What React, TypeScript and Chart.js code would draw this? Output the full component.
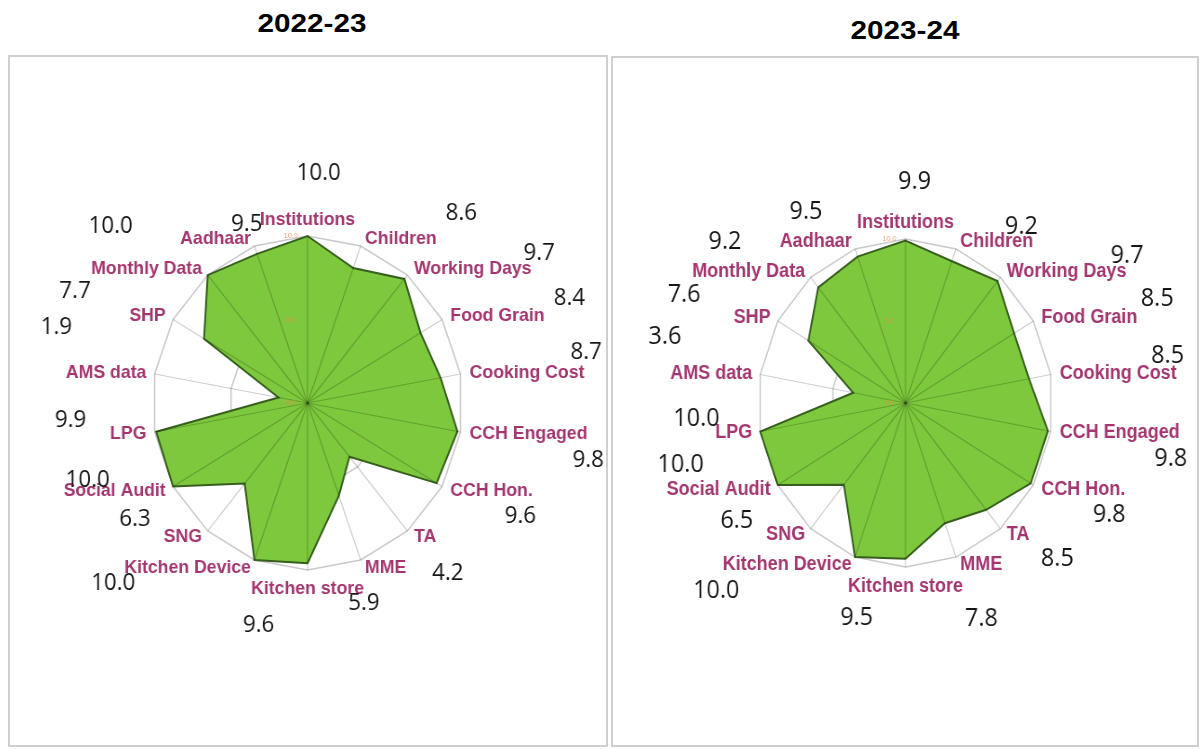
import React, { useEffect, useRef } from 'react';
import { Chart, registerables } from 'chart.js';

Chart.register(...registerables);

const categories = [
  'Institutions', 'Children', 'Working Days', 'Food Grain', 'Cooking Cost',
  'CCH Engaged', 'CCH Hon.', 'TA', 'MME', 'Kitchen store', 'Kitchen Device',
  'SNG', 'Social Audit', 'LPG', 'AMS data', 'SHP', 'Monthly Data', 'Aadhaar',
];
const values2022 = [10.0, 8.6, 9.7, 8.4, 8.7, 9.8, 9.6, 4.2, 5.9, 9.6, 10.0, 6.3, 10.0, 9.9, 1.9, 7.7, 10.0, 9.5];
const values2023 = [9.9, 9.2, 9.7, 8.5, 8.5, 9.8, 9.8, 8.5, 7.8, 9.5, 10.0, 6.5, 10.0, 10.0, 3.6, 7.6, 9.2, 9.5];
const yearTitles = ['2022-23', '2023-24'];
const tickValues = [0, 5, 10];

// placement of the value annotations: distance (x radius) and turn (degrees) from each spoke
const valueDist2022 = [1.38, 1.51, 1.74, 1.8, 1.82, 1.84, 1.53, 1.36, 1.25, 1.37, 1.65, 1.31, 1.49, 1.53, 1.68, 1.64, 1.65, 1.14];
const valueTurn2022 = [3, 21, 19, 9.5, 0.3, 0.7, -3.6, -1.6, 3.1, 13.3, 29.3, 18, 11.9, 6.2, 5.7, -5.9, -10.2, -0.1];
const valueDist2023 = [1.35, 1.33, 1.75, 1.82, 1.8, 1.83, 1.54, 1.4, 1.41, 1.35, 1.72, 1.35, 1.57, 1.42, 1.68, 1.64, 1.57, 1.35];
const valueTurn2023 = [2.6, 16.2, 19.1, 9.6, 0.8, 0.7, -3.7, -7.3, -1.4, 14.2, 28.2, 17.9, 16.1, 6.1, 3.9, -6.2, -11.2, -10];

const LABEL_FAMILY = '"Liberation Sans", Arial, sans-serif';

const radarDecor = {
  id: 'radarDecor',
  beforeDatasetsDraw(chart: any, _args: any, opts: any) {
    const scale = chart.scales.r;
    const ctx = chart.ctx as CanvasRenderingContext2D;
    const labels: string[] = chart.data.labels;
    const R = scale.drawingArea;
    ctx.save();
    ctx.fillStyle = '#a3366f';
    ctx.font = `bold ${opts.labelSize}px ${LABEL_FAMILY}`;
    labels.forEach((label, i) => {
      const deg = Math.round((scale.getIndexAngle(i) * 180) / Math.PI) % 360;
      if (deg === 0) {
        const p = scale.getPointPosition(i, R + 11);
        ctx.textAlign = 'center';
        ctx.textBaseline = 'alphabetic';
        ctx.fillText(label, p.x, p.y);
      } else if (deg === 180) {
        const p = scale.getPointPosition(i, R + 19);
        ctx.textAlign = 'center';
        ctx.textBaseline = 'middle';
        ctx.fillText(label, p.x, p.y);
      } else {
        const p = scale.getPointPosition(i, R + 8);
        const right = deg < 180;
        ctx.textAlign = right ? 'left' : 'right';
        ctx.textBaseline = 'middle';
        ctx.fillText(label, p.x + (right ? 2 : -1), p.y);
      }
    });
    ctx.restore();
  },
  afterDatasetsDraw(chart: any, _args: any, opts: any) {
    const scale = chart.scales.r;
    const ctx = chart.ctx as CanvasRenderingContext2D;
    const n = chart.data.labels.length;
    const xc = scale.xCenter;
    const yc = scale.yCenter;
    const R = scale.drawingArea;
    ctx.save();
    // spokes, visible over the fill
    ctx.strokeStyle = 'rgba(0,0,0,0.2)';
    ctx.lineWidth = 1.2;
    for (let i = 0; i < n; i++) {
      const p = scale.getPointPosition(i, R);
      ctx.beginPath();
      ctx.moveTo(xc, yc);
      ctx.lineTo(p.x, p.y);
      ctx.stroke();
    }
    // tiny tick labels
    ctx.fillStyle = 'rgba(236,140,80,0.8)';
    ctx.font = `8px ${LABEL_FAMILY}`;
    ctx.textAlign = 'center';
    ctx.textBaseline = 'middle';
    tickValues.forEach((v) => {
      const d = scale.getDistanceFromCenterForValue(v);
      ctx.fillText(v.toFixed(1), xc - 18, yc - d);
    });
    // value annotations
    const vals: number[] = chart.data.datasets[0].data;
    ctx.fillStyle = '#161616';
    ctx.font = `${opts.valueSize}px "Open Sans", sans-serif`;
    for (let i = 0; i < n; i++) {
      const a = scale.getIndexAngle(i) + (opts.turn[i] * Math.PI) / 180;
      const d = R * opts.dist[i];
      ctx.fillText(vals[i].toFixed(1), xc + Math.sin(a) * d, yc - Math.cos(a) * d);
    }
    ctx.restore();
  },
};

type PanelProps = {
  values: number[];
  dist: number[];
  turn: number[];
  left: number;
  top: number;
  cssWidth: number;
  cssHeight: number;
  squash: number;
  padTop: number;
  padBottom: number;
  labelSize: number;
  valueSize: number;
};

function RadarPanel(props: PanelProps) {
  const { values, dist, turn, left, top, cssWidth, cssHeight, squash, padTop, padBottom, labelSize, valueSize } = props;
  const ref = useRef<HTMLCanvasElement | null>(null);
  const drawWidth = Math.round(cssWidth / squash);
  useEffect(() => {
    if (!ref.current) return;
    const chart = new Chart(ref.current, {
      type: 'radar',
      data: {
        labels: categories,
        datasets: [
          {
            data: values,
            backgroundColor: '#7dc83c',
            borderColor: '#365f1d',
            borderWidth: 2,
            pointRadius: 0,
            fill: true,
          },
        ],
      },
      options: {
        responsive: false,
        animation: false,
        layout: { padding: { top: padTop, bottom: padBottom, left: 0, right: 0 } },
        elements: { line: { tension: 0 } },
        plugins: {
          legend: { display: false },
          tooltip: { enabled: false },
          radarDecor: { labelSize, valueSize, dist, turn },
        } as any,
        scales: {
          r: {
            min: 0,
            max: 10,
            ticks: { display: false, stepSize: 5 },
            grid: { color: '#c9c9c9', lineWidth: 1.5, circular: false },
            angleLines: { display: false },
            pointLabels: { display: false },
          },
        },
      },
      plugins: [radarDecor],
    });
    return () => chart.destroy();
  }, [values, dist, turn, padTop, padBottom, labelSize, valueSize]);
  return (
    <canvas
      ref={ref}
      width={drawWidth}
      height={cssHeight}
      style={{ position: 'absolute', left, top, width: cssWidth, height: cssHeight }}
    />
  );
}

export default function App() {
  const titleStyle: React.CSSProperties = {
    position: 'absolute',
    width: 200,
    textAlign: 'center',
    fontFamily: LABEL_FAMILY,
    fontWeight: 'bold',
    fontSize: 26,
    lineHeight: '30px',
    color: '#000',
    transform: 'scaleX(1.14)',
  };
  return (
    <div style={{ position: 'fixed', left: 0, top: 0, width: 1200, height: 749, background: '#fff', overflow: 'hidden' }}>
      <div style={{ ...titleStyle, left: 312 - 100, top: 8 }}>{yearTitles[0]}</div>
      <div style={{ ...titleStyle, left: 905 - 100, top: 15 }}>{yearTitles[1]}</div>
      <div style={{ position: 'absolute', left: 8, top: 55, width: 600, height: 692, border: '2px solid #cfcfcf', boxSizing: 'border-box' }} />
      <div style={{ position: 'absolute', left: 611, top: 56, width: 588, height: 691, border: '2px solid #cfcfcf', boxSizing: 'border-box' }} />
      <RadarPanel
        values={values2022} dist={valueDist2022} turn={valueTurn2022}
        left={10} top={57} cssWidth={596} cssHeight={688} squash={0.93}
        padTop={179} padBottom={175} labelSize={19} valueSize={24}
      />
      <RadarPanel
        values={values2023} dist={valueDist2023} turn={valueTurn2023}
        left={614} top={58} cssWidth={583} cssHeight={687} squash={0.9}
        padTop={181} padBottom={178} labelSize={20} valueSize={26}
      />
    </div>
  );
}
